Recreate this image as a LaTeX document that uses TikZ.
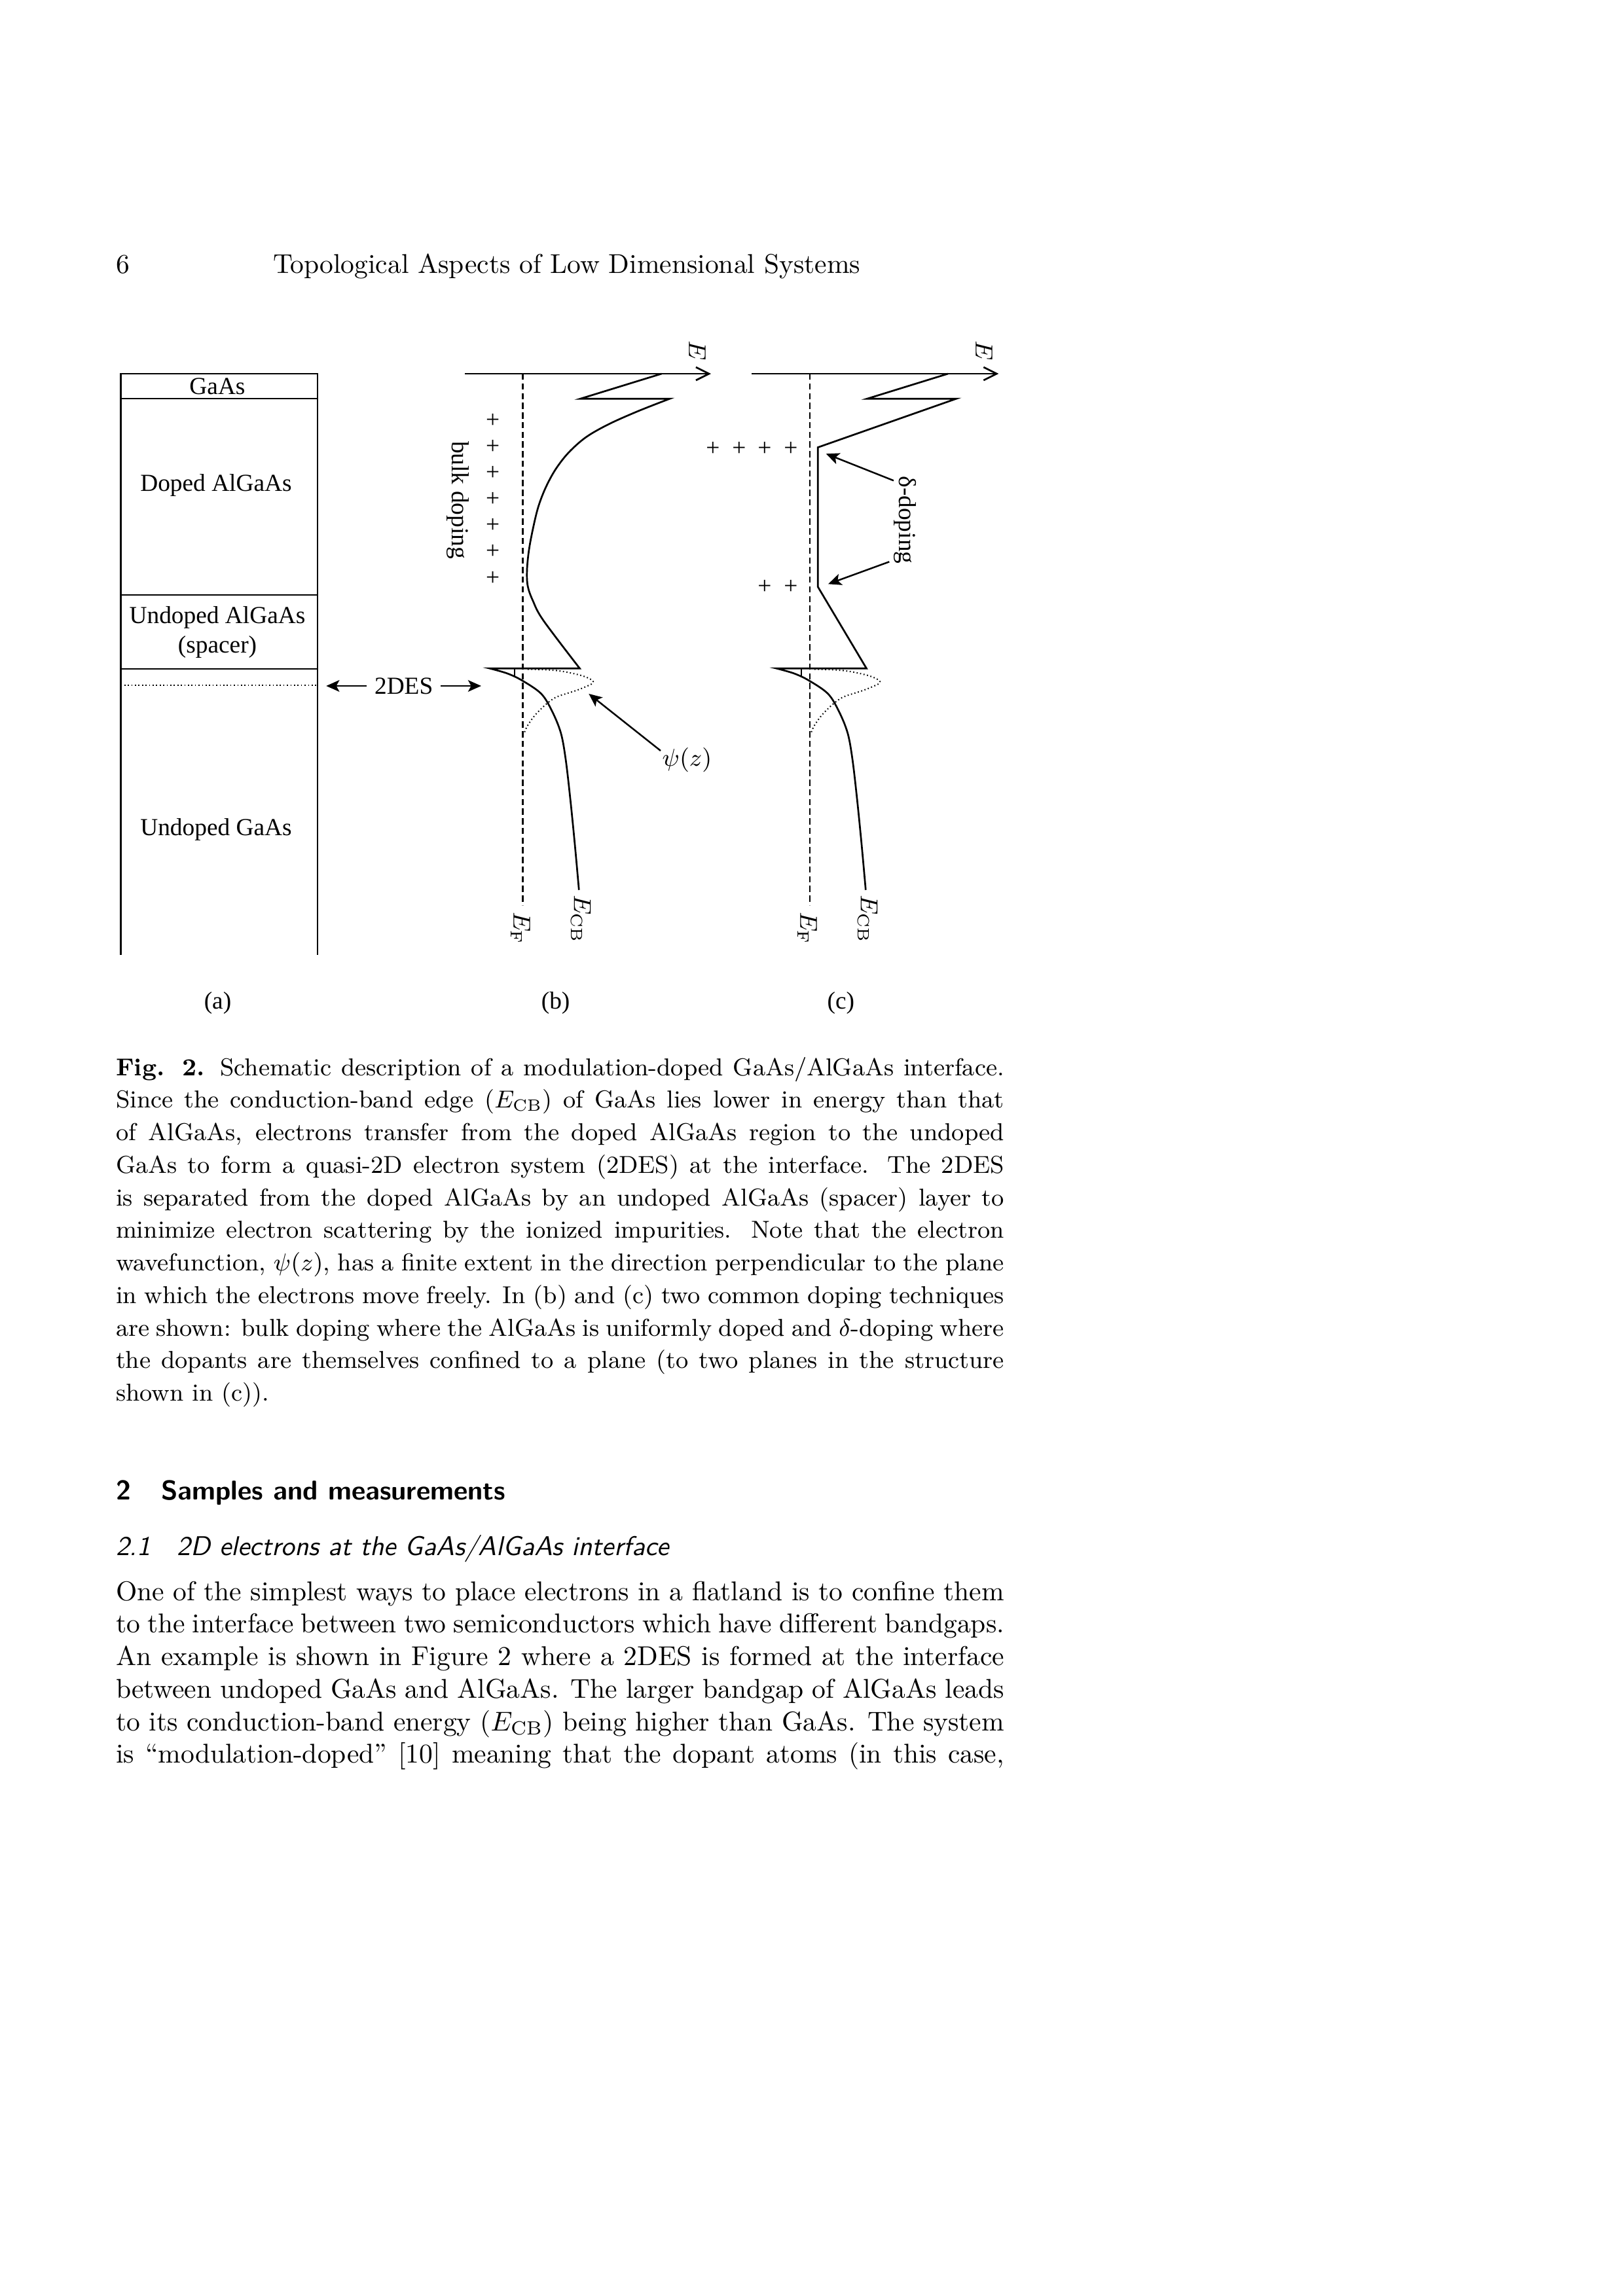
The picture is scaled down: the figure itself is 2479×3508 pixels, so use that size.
\documentclass[tikz,border=0pt]{standalone}
\usepackage{fontspec}
\newfontfamily\figfont{Liberation Serif}
\usetikzlibrary{arrows.meta}
\newcommand{\jline}[1]{\makebox[114.89mm][s]{#1}}
\begin{document}
\begin{tikzpicture}[x=0.0846667mm,y=-0.0846667mm,
  ln/.style={anchor=base west, inner sep=0pt, outer sep=0pt, font=\fontsize{10}{12}\selectfont},
  captxt/.style={anchor=base west, inner sep=0pt, outer sep=0pt, font=\fontsize{9}{12}\selectfont},
  hd/.style={anchor=base west, inner sep=0pt, outer sep=0pt, font=\sffamily\bfseries\fontsize{10}{12}\selectfont},
  sub/.style={anchor=base west, inner sep=0pt, outer sep=0pt, font=\sffamily\itshape\fontsize{10}{12}\selectfont},
  fl/.style={inner sep=0pt, font=\figfont\fontsize{9}{11}\selectfont},
  ml/.style={inner sep=0pt, font=\fontsize{9}{11}\selectfont},
  band/.style={line width=0.65pt, line join=miter},
  layer/.style={line width=0.5pt},
  fermi/.style={line width=0.5pt, dash pattern=on 0.8mm off 0.45mm},
  wave/.style={line width=0.5pt, dash pattern=on 0.4pt off 0.9pt},
  ptr/.style={line width=0.6pt, -{Stealth[length=1.7mm,width=1.5mm,inset=0.4mm]}},
  axis/.style={line width=0.65pt, -{Straight Barb[length=1.7mm,width=1.7mm]}}
]
\fill[white] (0,0) rectangle (2479,3508);
\useasboundingbox (0,0) rectangle (2479,3508);

% ---------- running head ----------
\node[ln] (pnum) at (177,417) {6};
\node[ln] (rh) at (417,417) {Topological Aspects of Low Dimensional Systems};

% ---------- panel (a) ----------
\draw[layer] (184.5,1459) -- (184.5,571) -- (485,571) -- (485,1459);
\draw[layer] (184.5,609) -- (485,609);
\draw[layer] (184.5,909) -- (485,909);
\draw[layer] (184.5,1022) -- (485,1022);
\draw[wave] (184.5,1047) -- (485,1047);
\node[fl] (tGaAs) at (332,590) {GaAs};
\node[fl] (tDoped) at (330,742) {Doped AlGaAs};
\node[fl, align=center] (tSpacer) at (332,966) {Undoped AlGaAs\\(spacer)};
\node[fl] (tUGaAs) at (330,1268) {Undoped GaAs};

% 2DES
\node[fl, inner sep=0.95mm] (des) at (616.7,1048) {2DES};
\coordinate (desL) at (498.3,1048);
\coordinate (desR) at (735,1048);
\draw[ptr] (des.west) -- (desL);
\draw[ptr] (des.east) -- (desR);

% ---------- panel (b) ----------
\coordinate (bax0) at (710.3,571);
\coordinate (baxE) at (1086,571);
\draw[axis] (bax0) -- (baxE);
\node[ml, rotate=-90] (bE) at (1065,535.5) {$E$};
\draw[fermi] (798.5,571) -- (798.5,1383);
\draw[band] (1010.5,571) -- (886.5,609.2) -- (1023,609.2)
  -- plot[smooth, tension=0.55] coordinates {(1023,609.2) (975,628) (930,648) (895,668) (868,692) (848,718) (833,746) (822,775) (814,808) (808,840) (805,870) (806,895) (814,918) (830,948) (885.5,1021.3)}
  -- (748.3,1021.3)
  -- plot[smooth, tension=0.55] coordinates {(748.3,1021.3) (775,1029) (798,1040) (826.7,1060) (843.3,1086.7) (856.7,1120) (864,1160) (871,1220) (878,1290) (884.3,1359.7)};
\draw[layer] (786,1021.3) -- (786,1032.5);
\draw[wave] plot[smooth, tension=0.55] coordinates {(806,1022.5) (850,1024.5) (886.7,1031.7) (904,1039) (905,1044) (895,1049) (880,1055) (850,1065) (833.3,1076.7) (816.7,1093.3) (805,1110) (800,1122)};
\foreach \yy [count=\i] in {642.5,682.6,722.8,763,803.2,843.4,883.6}
  \node[fl] (bp\i) at (752.6,\yy) {+};
\node[fl, rotate=-90] (bulk) at (699,764) {bulk doping};
\node[ml] (psi) at (1049.5,1160.7) {$\psi(z)$};
\coordinate (psiTail) at (1009,1147);
\coordinate (psiTip) at (899.3,1060);
\draw[ptr] (psiTail) -- (psiTip);
\node[ml, rotate=-90] (bEF) at (795,1418) {$E_{\mathrm{F}}$};
\node[ml, rotate=-90] (bECB) at (887,1404) {$E_{\mathrm{CB}}$};

% ---------- panel (c) ----------
\coordinate (cax0) at (1148,571);
\coordinate (caxE) at (1525.4,571);
\draw[axis] (cax0) -- (caxE);
\node[ml, rotate=-90] (cE) at (1503,535.5) {$E$};
\draw[fermi] (1236.7,571) -- (1236.7,1383);
\draw[band] (1448,571) -- (1324.5,609.2) -- (1460.6,609.2) -- (1249.3,683.5) -- (1249.3,896.7) -- (1323.5,1021.3)
  -- (1186.3,1021.3)
  -- plot[smooth, tension=0.55] coordinates {(1186.3,1021.3) (1213,1029) (1236,1040) (1264.7,1060) (1281.3,1086.7) (1294.7,1120) (1302,1160) (1309,1220) (1316,1290) (1322.3,1359.7)};
\draw[layer] (1224,1021.3) -- (1224,1032.5);
\draw[wave] plot[smooth, tension=0.55] coordinates {(1244,1022.5) (1288,1024.5) (1324.7,1031.7) (1342,1039) (1343,1044) (1333,1049) (1318,1055) (1288,1065) (1271.3,1076.7) (1254.7,1093.3) (1243,1110) (1238,1122)};
\foreach \xx [count=\i] in {1089,1129,1168,1208}
  \node[fl] (cpa\i) at (\xx,686) {+};
\foreach \xx [count=\i] in {1168,1208}
  \node[fl] (cpb\i) at (\xx,897) {+};
\node[fl, rotate=-90] (delta) at (1383,794.5) {δ-doping};
\coordinate (dT1) at (1365,734.3);
\coordinate (dH1) at (1261.7,693.3);
\coordinate (dT2) at (1358.3,858.3);
\coordinate (dH2) at (1265,892.3);
\draw[ptr] (dT1) -- (dH1);
\draw[ptr] (dT2) -- (dH2);
\node[ml, rotate=-90] (cEF) at (1233,1418) {$E_{\mathrm{F}}$};
\node[ml, rotate=-90] (cECB) at (1325,1404) {$E_{\mathrm{CB}}$};

% panel labels
\node[fl] (la) at (332.5,1532) {(a)};
\node[fl] (lb) at (848.6,1532) {(b)};
\node[fl] (lc) at (1284.3,1532) {(c)};

% ---------- caption ----------
\node[captxt] (c1) at (177,1643.1) {\jline{\textbf{Fig. 2.} Schematic description of a modulation-doped GaAs/AlGaAs interface.}};
\node[captxt] (c2) at (177,1692.85) {\jline{Since the conduction-band edge ($E_{\mathrm{CB}}$) of GaAs lies lower in energy than that}};
\node[captxt] (c3) at (177,1742.6) {\jline{of AlGaAs, electrons transfer from the doped AlGaAs region to the undoped}};
\node[captxt] (c4) at (177,1792.35) {\jline{GaAs to form a quasi-2D electron system (2DES) at the interface.  The 2DES}};
\node[captxt] (c5) at (177,1842.1) {\jline{is separated from the doped AlGaAs by an undoped AlGaAs (spacer) layer to}};
\node[captxt] (c6) at (177,1891.85) {\jline{minimize electron scattering by the ionized impurities.  Note that the electron}};
\node[captxt] (c7) at (177,1941.6) {\jline{wavefunction, $\psi(z)$, has a finite extent in the direction perpendicular to the plane}};
\node[captxt] (c8) at (177,1991.35) {\jline{in which the electrons move freely. In (b) and (c) two common doping techniques}};
\node[captxt] (c9) at (177,2041.1) {\jline{are shown: bulk doping where the AlGaAs is uniformly doped and $\delta$-doping where}};
\node[captxt] (c10) at (177,2090.85) {\jline{the dopants are themselves confined to a plane (to two planes in the structure}};
\node[captxt] (c11) at (177,2140.6) {shown in (c)).};

% ---------- headings ----------
\node[hd] (s2n) at (177,2291.7) {2};
\node[hd] (s2) at (246.4,2291.7) {Samples and measurements};
\node[sub] (s21n) at (177,2376.7) {2.1};
\node[sub] (s21) at (270.5,2376.7) {2D electrons at the GaAs/AlGaAs interface};

% ---------- body ----------
\node[ln] (p1) at (177,2445) {\jline{One of the simplest ways to place electrons in a flatland is to confine them}};
\node[ln] (p2) at (177,2494.75) {\jline{to the interface between two semiconductors which have different bandgaps.}};
\node[ln] (p3) at (177,2544.5) {\jline{An example is shown in Figure 2 where a 2DES is formed at the interface}};
\node[ln] (p4) at (177,2594.25) {\jline{between undoped GaAs and AlGaAs. The larger bandgap of AlGaAs leads}};
\node[ln] (p5) at (177,2644) {\jline{to its conduction-band energy ($E_{\mathrm{CB}}$) being higher than GaAs. The system}};
\node[ln] (p6) at (177,2693.75) {\jline{is ``modulation-doped'' [10] meaning that the dopant atoms (in this case,}};
\end{tikzpicture}
\end{document}
